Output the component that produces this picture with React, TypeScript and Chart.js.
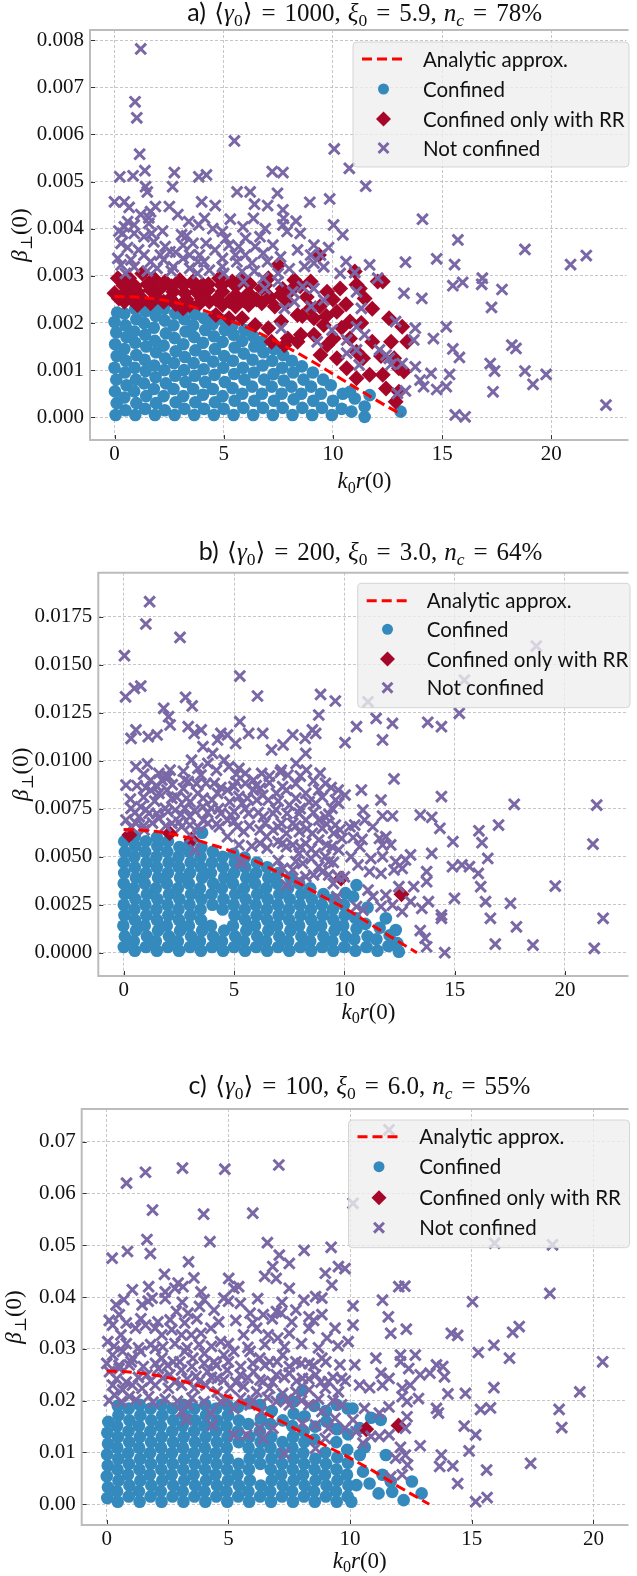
import React, { useEffect, useRef } from "react";
import { Chart, registerables } from "chart.js";
Chart.register(...registerables);

type Pt = [number, number];

// ======================= DATA =======================
const legendLabels = ["Analytic approx.", "Confined", "Confined only with RR", "Not confined"];

// ---------- panel a ----------
const xTicksA = [0, 5, 10, 15, 20];
const yTicksA = [0, 0.001, 0.002, 0.003, 0.004, 0.005, 0.006, 0.007, 0.008];
const analyticA: Pt[] = [[0,2.56e-3],[1,2.55e-3],[2,2.5e-3],[3,2.41e-3],[4,2.28e-3],[5,2.1e-3],[6,1.92e-3],[7,1.7e-3],[8,1.46e-3],[9,1.2e-3],[10,0.92e-3],[11,0.64e-3],[12,0.36e-3],[13.17,0.05e-3]];
const confinedA: Pt[] = [
[0.05,0.05e-3],[0.1,0.3e-3],[0.02,0.55e-3],[0.08,0.8e-3],[0,1.05e-3],[0.1,1.3e-3],[0.03,1.55e-3],[0.08,1.8e-3],[0,2.02e-3],[0.12,2.22e-3],
[0.5,0.15e-3],[0.45,0.42e-3],[0.55,0.68e-3],[0.48,0.95e-3],[0.52,1.2e-3],[0.45,1.45e-3],[0.55,1.7e-3],[0.5,1.95e-3],[0.45,2.2e-3],
[0.95,0.05e-3],[1,0.3e-3],[0.9,0.55e-3],[0.98,0.8e-3],[0.92,1.05e-3],[1,1.32e-3],[0.95,1.58e-3],[0.9,1.82e-3],[1,2.08e-3],[0.95,2.3e-3],
[1.4,0.18e-3],[1.45,0.45e-3],[1.35,0.72e-3],[1.42,0.98e-3],[1.38,1.22e-3],[1.45,1.5e-3],[1.4,1.75e-3],[1.35,2e-3],[1.42,2.25e-3],
[1.85,0.05e-3],[1.9,0.3e-3],[1.8,0.6e-3],[1.88,0.85e-3],[1.82,1.1e-3],[1.9,1.38e-3],[1.85,1.62e-3],[1.8,1.9e-3],[1.88,2.15e-3],[1.85,2.35e-3],
[2.3,0.15e-3],[2.25,0.45e-3],[2.35,0.72e-3],[2.28,1e-3],[2.32,1.25e-3],[2.25,1.52e-3],[2.35,1.78e-3],[2.3,2.05e-3],[2.28,2.3e-3],
[2.75,0.05e-3],[2.8,0.32e-3],[2.7,0.6e-3],[2.78,0.88e-3],[2.72,1.15e-3],[2.8,1.4e-3],[2.75,1.68e-3],[2.7,1.95e-3],[2.78,2.2e-3],
[3.2,0.18e-3],[3.15,0.45e-3],[3.25,0.75e-3],[3.18,1e-3],[3.22,1.28e-3],[3.15,1.55e-3],[3.25,1.82e-3],[3.2,2.08e-3],[3.18,2.28e-3],
[3.65,0.05e-3],[3.7,0.32e-3],[3.6,0.6e-3],[3.68,0.88e-3],[3.62,1.15e-3],[3.7,1.42e-3],[3.65,1.7e-3],[3.6,1.95e-3],[3.68,2.18e-3],
[4.1,0.18e-3],[4.05,0.48e-3],[4.15,0.75e-3],[4.08,1.02e-3],[4.12,1.3e-3],[4.05,1.58e-3],[4.15,1.85e-3],[4.1,2.1e-3],
[4.55,0.05e-3],[4.6,0.32e-3],[4.5,0.6e-3],[4.58,0.9e-3],[4.52,1.18e-3],[4.6,1.45e-3],[4.55,1.72e-3],[4.5,1.98e-3],[4.58,2.15e-3],
[5,0.18e-3],[4.95,0.45e-3],[5.05,0.75e-3],[4.98,1.05e-3],[5.02,1.3e-3],[4.95,1.6e-3],[5.05,1.85e-3],[5,2.05e-3],
[5.45,0.05e-3],[5.5,0.35e-3],[5.4,0.62e-3],[5.48,0.92e-3],[5.42,1.2e-3],[5.5,1.48e-3],[5.45,1.75e-3],[5.4,1.95e-3],
[5.9,0.2e-3],[5.85,0.5e-3],[5.95,0.8e-3],[5.88,1.05e-3],[5.92,1.35e-3],[5.85,1.62e-3],[5.95,1.85e-3],
[6.35,0.05e-3],[6.4,0.35e-3],[6.3,0.65e-3],[6.38,0.95e-3],[6.32,1.22e-3],[6.4,1.5e-3],[6.35,1.72e-3],
[6.8,0.2e-3],[6.75,0.5e-3],[6.85,0.8e-3],[6.78,1.1e-3],[6.82,1.38e-3],[6.75,1.6e-3],
[7.25,0.05e-3],[7.3,0.35e-3],[7.2,0.65e-3],[7.28,0.92e-3],[7.22,1.2e-3],[7.3,1.45e-3],
[7.7,0.2e-3],[7.65,0.5e-3],[7.75,0.78e-3],[7.68,1.05e-3],[7.72,1.32e-3],
[8.15,0.05e-3],[8.2,0.38e-3],[8.1,0.65e-3],[8.18,0.95e-3],[8.12,1.2e-3],
[8.6,0.2e-3],[8.55,0.5e-3],[8.65,0.8e-3],[8.58,1.08e-3],
[9.05,0.05e-3],[9.1,0.35e-3],[9,0.65e-3],[9.08,0.95e-3],
[9.5,0.2e-3],[9.45,0.5e-3],[9.55,0.8e-3],
[9.95,0.05e-3],[10,0.35e-3],[9.9,0.68e-3],
[10.4,0.18e-3],[10.45,0.5e-3],
[10.85,0.12e-3],[10.78,0.54e-3],[11,0.4e-3],[11.45,0.23e-3],[11.45,0.01e-3],[11.68,0.47e-3],[13.1,0.12e-3]
];
const rrOnlyA: Pt[] = [
[0.15,2.95e-3],[0.67,2.95e-3],[1.27,3.05e-3],[1.8,2.95e-3],[2.32,2.88e-3],[2.99,2.91e-3],[3.59,2.88e-3],[4.04,2.81e-3],[4.79,2.95e-3],[5.39,2.88e-3],[5.84,2.95e-3],[7.04,2.95e-3],
[0,2.63e-3],[0.52,2.66e-3],[1.05,2.66e-3],[1.65,2.7e-3],[2.1,2.73e-3],[2.69,2.66e-3],[3.22,2.63e-3],[3.74,2.66e-3],[4.27,2.7e-3],[4.94,2.66e-3],[5.54,2.59e-3],[6.14,2.63e-3],[6.74,2.73e-3],
[7.49,3.23e-3],[9.36,3.44e-3],
[0.45,2.45e-3],[1.05,2.38e-3],[1.65,2.42e-3],[2.25,2.45e-3],[2.8,2.4e-3],[3.14,2.31e-3],[3.44,2.38e-3],[3.9,2.42e-3],[4.34,2.45e-3],[4.94,2.38e-3],[5.54,2.35e-3],[6.14,2.38e-3],[6.74,2.42e-3],[7.34,2.35e-3],[7.93,2.45e-3],[8.38,2.17e-3],[8.98,2.31e-3],
[4.64,2.17e-3],[5.24,2.1e-3],[5.84,2.1e-3],[6.44,1.96e-3],[7.04,1.89e-3],[7.63,2.03e-3],[7.93,1.67e-3],[8.53,1.75e-3],[9.13,2.1e-3],[9.58,1.96e-3],[10.18,2.24e-3],[10.78,2.03e-3],
[7.19,1.6e-3],[7.78,1.53e-3],[8.38,1.6e-3],[9.13,1.75e-3],[9.73,1.53e-3],[10.18,1.25e-3],[10.63,1.04e-3],[11.08,1.39e-3],[9.43,1.32e-3],[10.03,1.67e-3],
[11,3.09e-3],[11.08,2.81e-3],[8.23,2.91e-3],[8.98,2.88e-3],[9.73,2.66e-3],[10.33,2.73e-3],
[11.23,2.73e-3],[11.45,2.52e-3],[12.05,2.88e-3],[12.28,2.88e-3],[12.57,2.1e-3],[13.17,1.92e-3],[11.8,1.6e-3],[12.66,1.6e-3],[13.4,1.6e-3],[11.38,1.25e-3],[11.68,0.9e-3],[12.28,0.9e-3],[13.02,1.04e-3],[13.25,0.97e-3],[12.43,0.61e-3],[12.87,0.33e-3],[13.02,0.54e-3],[11.08,0.83e-3],[10.78,1.67e-3],
[0.2,2.52e-3],[0.75,2.52e-3],[1.3,2.5e-3],[1.9,2.54e-3],[2.55,2.52e-3],[3.3,2.5e-3],[4,2.52e-3],[4.65,2.5e-3],[5.25,2.46e-3],[5.9,2.48e-3],[6.5,2.5e-3],[7.1,2.55e-3],
[0.4,2.8e-3],[0.95,2.78e-3],[1.5,2.82e-3],[2.05,2.8e-3],[2.6,2.78e-3],[3.15,2.8e-3],[3.7,2.78e-3],[4.3,2.82e-3],[4.9,2.8e-3],[5.55,2.78e-3],[6.2,2.82e-3],[6.9,2.8e-3],[7.7,2.72e-3],[8.5,2.78e-3],
[7.6,2.6e-3],[8.1,2.7e-3],[8.8,2.55e-3],[9.4,2.35e-3],[10,2.5e-3],[10.6,2.4e-3],[8.6,2.15e-3],[9.7,2.15e-3],[10.4,1.9e-3],[11.3,2e-3],[11.8,2.3e-3],[12.2,1.3e-3],[12.8,1.25e-3]
];
const notConfinedA: Pt[] = [
[1.2,7.81e-3],[0.94,6.69e-3],[1.02,6.35e-3],[5.49,5.86e-3],[10.06,5.69e-3],[1.15,5.58e-3],[10.75,5.28e-3],[1.39,5.23e-3],[0.24,5.1e-3],[0.85,5.12e-3],[2.74,5.19e-3],[3.86,5.1e-3],[4.21,5.14e-3],[7.22,5.21e-3],[7.71,5.19e-3],
[1.42,4.89e-3],[2.66,4.89e-3],[1.5,4.78e-3],[5.61,4.78e-3],[6.21,4.78e-3],[7.46,4.75e-3],[0,4.57e-3],[0.45,4.57e-3],[0.67,4.45e-3],[2.51,4.47e-3],[3.99,4.57e-3],[4.61,4.49e-3],[6.41,4.52e-3],[7.01,4.49e-3],[8.94,4.56e-3],[9.85,4.63e-3],
[1.87,4.47e-3],[1.65,4.36e-3],[7.71,4.4e-3],[1.57,4.23e-3],[0.6,4.15e-3],[4.12,4.22e-3],[6.36,4.22e-3],[7.74,4.22e-3],[8.31,4.16e-3],[0.45,4.04e-3],[0.9,4.08e-3],[1.57,4.11e-3],[3.86,4.08e-3],[5.88,4.04e-3],[7.71,4.08e-3],[10.03,4.08e-3],
[0.37,3.9e-3],[0.9,3.9e-3],[4.94,3.94e-3],[7.9,3.94e-3],[10.45,3.87e-3],[3.07,3.87e-3],[1.35,3.83e-3],[5.09,3.79e-3],[6.66,3.83e-3],[0.3,3.69e-3],[1.8,3.72e-3],[3.14,3.65e-3],[3.59,3.69e-3],[4.19,3.69e-3],[5.24,3.65e-3],[5.69,3.62e-3],[6.44,3.62e-3],[7.25,3.65e-3],[8.38,3.55e-3],[9.13,3.65e-3],[2.32,3.62e-3],
[1.35,3.44e-3],[2.1,3.44e-3],[2.54,3.51e-3],[3.44,3.44e-3],[3.89,3.44e-3],[5.54,3.44e-3],[5.99,3.44e-3],[6.81,3.48e-3],[8.98,3.44e-3],[9.43,3.44e-3],[0.15,3.37e-3],[0.75,3.34e-3],[1.65,3.3e-3],[2.25,3.34e-3],[3.14,3.37e-3],[3.82,3.3e-3],[4.94,3.37e-3],[6.29,3.27e-3],[9.13,3.27e-3],[9.58,3.19e-3],
[0.3,3.23e-3],[0.9,3.19e-3],[1.95,3.16e-3],[2.69,3.19e-3],[3.44,3.16e-3],[4.34,3.12e-3],[4.94,3.19e-3],[5.84,3.09e-3],[7.49,3.05e-3],[10.33,3.05e-3],[11,3.07e-3],
[5.91,2.88e-3],[6.89,2.73e-3],[7.49,2.88e-3],[8.16,2.66e-3],[8.61,2.77e-3],[9.13,2.73e-3],[6.81,2.95e-3],[8.23,2.45e-3],[7.78,2.31e-3],[9,2.35e-3],[9.58,2.49e-3],[11.08,2.66e-3],[7.63,1.89e-3],[9.28,1.6e-3],[9.96,1.85e-3],[10.63,1.64e-3],[10.63,1.36e-3],[11.08,1.92e-3],
[0.6,3.6e-3],[1.1,3.55e-3],[1.7,3.9e-3],[2.2,3.95e-3],[2.8,3.5e-3],[3.3,3.85e-3],[4.6,3.55e-3],[5.3,4.2e-3],[6,3.8e-3],[6.9,4e-3],[7.6,3.4e-3],[8,3.15e-3],[8.5,3.9e-3],[0.2,3.95e-3],[1.2,4.3e-3],[2.9,4.3e-3],[3.4,4.15e-3],[4.5,4e-3],[5.6,3.3e-3],[6.4,3.1e-3],[7,3.3e-3],[8.7,3.2e-3],[9.8,3.6e-3],[10.6,3.3e-3],[2.6,3.1e-3],[1.5,3.1e-3],[4.1,3.3e-3],[0.5,3.05e-3],[3.8,3.05e-3],[5,3.05e-3],
[11.5,4.9e-3],[14.1,4.2e-3],[15.72,3.76e-3],[18.79,3.56e-3],[14.75,3.36e-3],[13.32,3.29e-3],[15.57,3.24e-3],[11.68,3.23e-3],[20.88,3.24e-3],[21.6,3.43e-3],[12.05,2.95e-3],[15.49,2.79e-3],[15.94,2.86e-3],[16.84,2.95e-3],[16.81,2.82e-3],[17.74,2.71e-3],
[13.25,2.63e-3],[14.07,2.52e-3],[17.26,2.33e-3],[11.3,2.31e-3],[11.45,1.75e-3],[12.87,2.03e-3],[13.77,1.89e-3],[15.19,1.92e-3],[14.6,1.67e-3],[13.7,1.64e-3],[18.19,1.53e-3],[18.38,1.46e-3],[15.49,1.45e-3],[15.79,1.27e-3],[17.2,1.14e-3],[17.4,0.98e-3],[18.79,0.98e-3],[19.76,0.91e-3],[19.16,0.7e-3],
[11.2,1.11e-3],[12.13,1.43e-3],[12.43,1.32e-3],[12.58,1.25e-3],[12.66,1.12e-3],[13.17,1.14e-3],[13.77,1.07e-3],[14.49,0.93e-3],[13.99,0.79e-3],[14.15,0.65e-3],[14.75,0.59e-3],[15.19,0.65e-3],[15.34,0.91e-3],[13.32,0.56e-3],[12.95,0.51e-3],[17.33,0.54e-3],[15.6,0.05e-3],[16.05,0.01e-3],[22.5,0.26e-3],[11.08,1.43e-3]
];

// ---------- panel b ----------
const xTicksB = [0, 5, 10, 15, 20];
const yTicksB = [0, 0.0025, 0.005, 0.0075, 0.01, 0.0125, 0.015, 0.0175];
const analyticB: Pt[] = [[0,6.42e-3],[1,6.36e-3],[2,6.22e-3],[3,5.96e-3],[4,5.62e-3],[5,5.24e-3],[6,4.76e-3],[7,4.18e-3],[8,3.58e-3],[9,2.94e-3],[10,2.33e-3],[11,1.62e-3],[12,0.9e-3],[13.29,0]];
const confinedB: Pt[] = [
[0,0.3e-3],[0.05,0.85e-3],[-0.02,1.4e-3],[0.03,1.95e-3],[0,2.5e-3],[0.05,3.05e-3],[0,3.6e-3],[0.02,4.15e-3],[0,4.7e-3],[0.05,5.25e-3],[0.02,5.8e-3],
[0.5,0.1e-3],[0.45,0.6e-3],[0.55,1.15e-3],[0.5,1.7e-3],[0.48,2.25e-3],[0.52,2.8e-3],[0.45,3.35e-3],[0.55,3.9e-3],[0.5,4.45e-3],[0.48,5e-3],[0.52,5.55e-3],[0.5,6.05e-3],
[1,0.3e-3],[1.05,0.85e-3],[0.95,1.4e-3],[1.02,1.95e-3],[0.98,2.5e-3],[1.05,3.05e-3],[0.95,3.6e-3],[1,4.15e-3],[1.03,4.7e-3],[0.97,5.25e-3],[1,5.8e-3],
[1.5,0.1e-3],[1.45,0.6e-3],[1.55,1.15e-3],[1.5,1.7e-3],[1.48,2.25e-3],[1.52,2.8e-3],[1.45,3.35e-3],[1.55,3.9e-3],[1.5,4.45e-3],[1.48,5e-3],[1.52,5.55e-3],[1.5,6e-3],
[2,0.3e-3],[2.05,0.85e-3],[1.95,1.4e-3],[2.02,1.95e-3],[1.98,2.5e-3],[2.05,3.05e-3],[1.95,3.6e-3],[2,4.15e-3],[2.03,4.7e-3],[1.97,5.25e-3],[2,5.8e-3],
[2.5,0.1e-3],[2.45,0.6e-3],[2.55,1.15e-3],[2.5,1.7e-3],[2.48,2.25e-3],[2.52,2.8e-3],[2.45,3.35e-3],[2.55,3.9e-3],[2.5,4.45e-3],[2.48,5e-3],[2.52,5.5e-3],
[3,0.3e-3],[3.05,0.85e-3],[2.95,1.4e-3],[3.02,1.95e-3],[2.98,2.5e-3],[3.05,3.05e-3],[2.95,3.6e-3],[3,4.15e-3],[3.03,4.7e-3],[2.97,5.25e-3],[3,5.75e-3],
[3.5,0.1e-3],[3.45,0.6e-3],[3.55,1.15e-3],[3.5,1.7e-3],[3.48,2.25e-3],[3.52,2.8e-3],[3.45,3.35e-3],[3.55,3.9e-3],[3.5,4.45e-3],[3.48,5e-3],[3.52,5.5e-3],[3.55,6.25e-3],
[4,0.3e-3],[4.05,0.85e-3],[3.95,1.4e-3],[4.02,2.5e-3],[3.98,3.05e-3],[4.05,3.6e-3],[3.95,4.15e-3],[4,4.7e-3],[4.03,5.25e-3],
[4.5,0.1e-3],[4.45,0.6e-3],[4.55,1.15e-3],[4.48,2.25e-3],[4.52,2.8e-3],[4.45,3.35e-3],[4.55,3.9e-3],[4.5,4.45e-3],[4.48,5e-3],
[5,0.3e-3],[5.05,0.85e-3],[4.95,1.4e-3],[5.02,1.95e-3],[4.98,2.5e-3],[5.05,3.05e-3],[4.95,3.6e-3],[5,4.15e-3],[5.03,4.7e-3],[4.97,5.15e-3],
[5.5,0.1e-3],[5.45,0.6e-3],[5.55,1.15e-3],[5.5,1.7e-3],[5.48,2.25e-3],[5.52,2.8e-3],[5.45,3.35e-3],[5.55,3.9e-3],[5.5,4.45e-3],[5.48,4.95e-3],
[6,0.3e-3],[6.05,0.85e-3],[5.95,1.4e-3],[6.02,1.95e-3],[5.98,2.5e-3],[6.05,3.05e-3],[5.95,3.6e-3],[6,4.15e-3],[6.03,4.7e-3],
[6.5,0.1e-3],[6.45,0.6e-3],[6.55,1.15e-3],[6.5,1.7e-3],[6.48,2.25e-3],[6.52,2.8e-3],[6.45,3.35e-3],[6.55,3.9e-3],[6.5,4.45e-3],
[7,0.3e-3],[7.05,0.85e-3],[6.95,1.4e-3],[7.02,1.95e-3],[6.98,2.5e-3],[7.05,3.05e-3],[6.95,3.6e-3],[7,4.15e-3],
[7.5,0.1e-3],[7.45,0.6e-3],[7.55,1.15e-3],[7.5,1.7e-3],[7.48,2.25e-3],[7.52,2.8e-3],[7.45,3.35e-3],[7.55,3.9e-3],
[8,0.3e-3],[8.05,0.85e-3],[7.95,1.4e-3],[8.02,1.95e-3],[7.98,2.5e-3],[8.05,3.05e-3],[7.95,3.6e-3],
[8.5,0.1e-3],[8.45,0.6e-3],[8.55,1.15e-3],[8.5,1.7e-3],[8.48,2.25e-3],[8.52,2.8e-3],[8.45,3.35e-3],
[9,0.3e-3],[9.05,0.85e-3],[8.95,1.4e-3],[9.02,1.95e-3],[8.98,2.5e-3],[9.05,3.05e-3],
[9.5,0.1e-3],[9.45,0.6e-3],[9.55,1.15e-3],[9.5,1.7e-3],[9.48,2.25e-3],[9.52,2.8e-3],
[10,0.3e-3],[10.05,0.85e-3],[9.95,1.4e-3],[10.02,1.95e-3],[9.98,2.5e-3],[10.05,3.1e-3],
[10.5,0.1e-3],[10.45,0.7e-3],[10.55,1.25e-3],[10.5,1.8e-3],[10.4,2.92e-3],[10.55,3.52e-3],
[11,0.3e-3],[11.05,0.85e-3],[10.95,1.5e-3],[11.05,2.35e-3],
[11.5,0.1e-3],[11.45,0.7e-3],[11.6,1.3e-3],[11.88,1.79e-3],
[12,0.35e-3],[12.05,0.9e-3],[12.33,1.18e-3],
[12.47,0.05e-3],[12.4,0.5e-3]
];
const rrOnlyB: Pt[] = [[0.25,6.13e-3],[2.08,6.22e-3],[3.07,5.9e-3],[9.85,3.87e-3],[12.59,3.04e-3]];
const notConfinedB: Pt[] = [
[1.17,18.28e-3],[1,17.12e-3],[2.55,16.42e-3],[0.03,15.47e-3],[5.26,14.41e-3],[0.08,13.33e-3],[0.48,13.77e-3],[0.77,13.89e-3],[2.8,13.3e-3],[3.1,12.85e-3],[6.06,13.37e-3],[8.92,13.45e-3],[9.59,13.11e-3],
[1.81,12.73e-3],[2.03,12.29e-3],[2.1,11.86e-3],[0.55,11.6e-3],[0.33,11.16e-3],[1.11,11.25e-3],[1.51,11.34e-3],[2.92,11.77e-3],[3.19,11.42e-3],[3.51,11.6e-3],[5.26,12.03e-3],[5.66,11.42e-3],[6.3,11.42e-3],[4.4,11.42e-3],[4.7,11.34e-3],[5.07,10.9e-3],[6.7,10.56e-3],[7.22,10.82e-3],[7.66,11.34e-3],[8.22,11.16e-3],[8.55,11.6e-3],[8.84,12.38e-3],[8.7,11.42e-3],[10.03,10.94e-3],
[0.55,9.69e-3],[1.07,9.83e-3],[1.59,9.34e-3],[2.1,9.51e-3],[3.07,10.03e-3],[3.36,9.6e-3],[3.59,10.73e-3],[4.03,10.38e-3],[4.25,11.08e-3],[3.81,9.86e-3],[4.55,10.03e-3],[4.77,9.69e-3],[5.22,9.6e-3],[5.51,9.34e-3],[5.88,8.99e-3],[6.25,9.34e-3],[7.14,9.51e-3],[7.44,9.25e-3],[7.81,9.86e-3],[8.25,10.38e-3],[8.28,9.51e-3],
[0.1,8.73e-3],[1.22,8.99e-3],[1.51,8.65e-3],[1.73,8.99e-3],[2.03,9.17e-3],[2.77,8.99e-3],[2.92,8.91e-3],[3.73,8.82e-3],[4.1,8.82e-3],[4.99,8.65e-3],[5.51,8.82e-3],[5.88,8.47e-3],[6.18,8.56e-3],[6.92,8.3e-3],[7.37,8.47e-3],[8.25,8.3e-3],[8.84,8.47e-3],[9.14,8.82e-3],[9.72,8.47e-3],[10.03,8.21e-3],
[1.22,8.47e-3],[1.59,8.3e-3],[1.96,8.47e-3],[2.18,8.04e-3],[2.85,8.04e-3],[3.36,8.3e-3],[4.25,8.3e-3],[4.7,8.47e-3],[5.22,8.13e-3],[5.37,7.78e-3],[6.03,7.95e-3],[6.55,7.95e-3],[7.51,7.69e-3],[7.95,7.26e-3],[8.7,7.78e-3],[9.44,7.52e-3],[9.74,7.78e-3],
[0.77,7.6e-3],[1.14,7.26e-3],[0.33,7.52e-3],[1.88,7.52e-3],[2.33,7.43e-3],[2.77,7.52e-3],[3,7.08e-3],[3.59,7.6e-3],[3.96,7.52e-3],[4.4,7.26e-3],[4.85,7.17e-3],[5.66,7.26e-3],[6.33,7.08e-3],[6.77,7.26e-3],[7.14,6.74e-3],[7.66,6.74e-3],[8.25,6.91e-3],[8.84,6.91e-3],[9.14,7.08e-3],[9.59,6.65e-3],
[0.1,6.91e-3],[0.55,6.74e-3],[1.59,7e-3],[2.18,6.74e-3],[2.62,6.56e-3],[3.36,6.56e-3],[3.81,6.74e-3],[4.33,6.56e-3],[4.7,6.91e-3],[5.14,6.56e-3],[5.44,6.3e-3],[6.18,6.39e-3],[6.77,6.39e-3],[7.37,6.22e-3],[7.96,6.3e-3],[8.55,6.22e-3],[9,6.48e-3],[9.51,6.22e-3],[0.33,6.56e-3],[0.92,6.39e-3],[0.7,7.08e-3],
[3.07,6.04e-3],[4.7,6.04e-3],[6.47,6.04e-3],[6.99,5.78e-3],[7.66,5.61e-3],[8.25,5.69e-3],[8.84,5.87e-3],[9.44,5.52e-3],[9.88,5.95e-3],[3.21,5.35e-3],[5.22,5.61e-3],[6.18,5.69e-3],[7.37,5.52e-3],[7.95,5.17e-3],[8.7,5.17e-3],[9.14,5e-3],[9.74,5.35e-3],
[5.29,4.74e-3],[5.37,4.65e-3],[7.22,4.39e-3],[7.66,4.31e-3],[8.11,4.65e-3],[8.84,4.48e-3],[9.29,4.05e-3],[9.74,3.96e-3],[9.29,4.74e-3],[7.95,3.78e-3],[8.25,3.96e-3],[7.37,3.52e-3],[9.66,2.92e-3],
[0.9,6.6e-3],[1.3,6.75e-3],[1.9,6.6e-3],[2.5,6.8e-3],[3,6.65e-3],[3.6,6.9e-3],[4.2,6.7e-3],[5,6.85e-3],[5.7,6.6e-3],[6.4,6.75e-3],[7,6.55e-3],[7.8,6.6e-3],[8.3,6.45e-3],[9.2,6.7e-3],[9.8,6.4e-3],
[0.5,7.3e-3],[1,7.45e-3],[1.5,7.25e-3],[2,7.35e-3],[2.6,7.2e-3],[3.2,7.4e-3],[3.8,7.3e-3],[4.3,7.5e-3],[5,7.35e-3],[5.5,7.5e-3],[6.1,7.3e-3],[6.9,7.45e-3],[7.4,7.25e-3],[8,7.5e-3],[8.6,7.3e-3],[9.3,7.2e-3],
[0.3,8e-3],[0.9,8.1e-3],[1.4,7.9e-3],[2.4,8.1e-3],[3,7.85e-3],[3.6,8.05e-3],[4,7.95e-3],[4.8,7.85e-3],[5.6,8.05e-3],[6.3,8.2e-3],[7,7.9e-3],[7.8,8.05e-3],[8.4,7.85e-3],[9,8.1e-3],[9.6,7.95e-3],
[0.6,8.7e-3],[1,8.6e-3],[2.2,8.75e-3],[2.7,8.55e-3],[3.3,8.8e-3],[4.4,8.6e-3],[5.1,8.9e-3],[6,8.7e-3],[6.6,8.85e-3],[7.2,8.65e-3],[7.8,8.8e-3],[8.6,8.95e-3],[9.4,8.6e-3],
[0.9,9.3e-3],[1.9,9.2e-3],[2.7,9.45e-3],[3.5,9.25e-3],[4.2,9.5e-3],[5.1,9.3e-3],[6.6,9.2e-3],[7.1,9.4e-3],[8,9.2e-3],[8.9,9.35e-3],
[5.8,5.55e-3],[6.5,5.45e-3],[7.2,5.7e-3],[8,5.5e-3],[8.5,5.4e-3],[9.2,5.6e-3],[7,4.8e-3],[7.8,4.75e-3],[8.5,4.9e-3],[9.5,4.7e-3],[8.6,4.05e-3],[9,4.2e-3],[9.5,3.6e-3],[10,3.95e-3],[10.3,5e-3],[10.8,5.9e-3],[11.2,4.9e-3],[10.4,6e-3],
[11.07,13.07e-3],[15.44,14.2e-3],[18.7,15.97e-3],[15.21,12.47e-3],[11.44,12.2e-3],[12.18,11.94e-3],[13.78,12e-3],[14.4,11.77e-3],[10.55,11.77e-3],[11.73,11.08e-3],[12.25,9.05e-3],[10.77,8.47e-3],[14.4,8.13e-3],[11.66,7.95e-3],[17.7,7.73e-3],[21.44,7.69e-3],
[10.84,7.43e-3],[11.73,7.12e-3],[12.18,7.12e-3],[13.44,7.17e-3],[13.96,7.05e-3],[16.99,6.65e-3],[16.1,6.35e-3],[16.24,5.73e-3],[14.33,6.48e-3],[10.25,6.56e-3],[10.47,6.65e-3],[11.29,6.56e-3],[10.92,6.91e-3],[11.59,5.95e-3],[11.88,6.04e-3],[12.1,5.61e-3],[11.73,5.61e-3],[10.7,5.52e-3],[14.92,5.78e-3],[21.27,5.66e-3],
[13.96,5.17e-3],[13,5.09e-3],[12.77,4.83e-3],[12.33,4.74e-3],[12.62,4.39e-3],[11.73,5e-3],[10.62,4.57e-3],[11.14,4.22e-3],[11.66,4.13e-3],[12.25,4.31e-3],[14.9,4.48e-3],[15.33,4.57e-3],[15.67,4.48e-3],[16.07,4.13e-3],[16.5,4.91e-3],[13.73,4.22e-3],[13.73,3.7e-3],[13.14,3.44e-3],[12.47,3.44e-3],[16.18,3.44e-3],[19.56,3.47e-3],
[11.07,3.26e-3],[11.29,2.92e-3],[11.88,3e-3],[13,2.66e-3],[13.81,2.66e-3],[14.99,2.83e-3],[16.4,2.66e-3],[17.53,2.57e-3],[10.55,2.4e-3],[10.84,2.22e-3],[11.66,2.4e-3],[12.18,2.48e-3],[12.62,2.14e-3],[13.51,2.31e-3],[14.4,1.79e-3],[14.4,1.96e-3],[16.62,1.79e-3],[21.73,1.79e-3],
[17.8,1.35e-3],[13.44,1.15e-3],[13.66,0.75e-3],[13.73,0.31e-3],[14.55,0],[16.84,0.45e-3],[18.55,0.4e-3],[21.33,0.23e-3]
];

// ---------- panel c ----------
const xTicksC = [0, 5, 10, 15, 20];
const yTicksC = [0, 0.01, 0.02, 0.03, 0.04, 0.05, 0.06, 0.07];
const analyticC: Pt[] = [[0,2.573e-2],[1,2.55e-2],[2,2.49e-2],[3,2.39e-2],[4,2.25e-2],[5,2.077e-2],[6,1.87e-2],[7,1.64e-2],[8,1.39e-2],[9,1.13e-2],[10,0.89e-2],[11,0.63e-2],[12,0.34e-2],[13.25,0]];
const confinedC: Pt[] = [
[0.02,0.12e-2],[0.05,0.33e-2],[0,0.54e-2],[0.04,0.75e-2],[0.01,0.96e-2],[0.05,1.17e-2],[0.02,1.38e-2],[0.06,1.59e-2],
[0.45,0.05e-2],[0.42,0.25e-2],[0.48,0.46e-2],[0.44,0.67e-2],[0.47,0.88e-2],[0.43,1.09e-2],[0.46,1.3e-2],[0.42,1.51e-2],[0.48,1.72e-2],[0.45,1.9e-2],
[0.9,0.15e-2],[0.93,0.36e-2],[0.87,0.57e-2],[0.91,0.78e-2],[0.88,0.99e-2],[0.92,1.2e-2],[0.89,1.41e-2],[0.93,1.62e-2],[0.9,1.85e-2],
[1.35,0.05e-2],[1.32,0.25e-2],[1.38,0.46e-2],[1.34,0.67e-2],[1.37,0.88e-2],[1.33,1.09e-2],[1.36,1.3e-2],[1.32,1.51e-2],[1.38,1.72e-2],[1.35,1.92e-2],
[1.8,0.15e-2],[1.83,0.36e-2],[1.77,0.57e-2],[1.81,0.78e-2],[1.78,0.99e-2],[1.82,1.2e-2],[1.79,1.41e-2],[1.83,1.62e-2],[1.8,1.85e-2],
[2.25,0.05e-2],[2.22,0.25e-2],[2.28,0.46e-2],[2.24,0.67e-2],[2.27,0.88e-2],[2.23,1.09e-2],[2.26,1.3e-2],[2.22,1.51e-2],[2.28,1.72e-2],[2.25,1.92e-2],
[2.7,0.15e-2],[2.73,0.36e-2],[2.67,0.57e-2],[2.71,0.78e-2],[2.68,0.99e-2],[2.72,1.2e-2],[2.69,1.41e-2],[2.73,1.62e-2],[2.7,1.85e-2],
[3.15,0.05e-2],[3.12,0.25e-2],[3.18,0.46e-2],[3.14,0.67e-2],[3.17,0.88e-2],[3.13,1.09e-2],[3.16,1.3e-2],[3.12,1.51e-2],[3.18,1.72e-2],[3.15,1.92e-2],
[3.6,0.15e-2],[3.63,0.36e-2],[3.57,0.57e-2],[3.61,0.78e-2],[3.58,0.99e-2],[3.62,1.2e-2],[3.59,1.41e-2],[3.63,1.62e-2],[3.6,1.85e-2],
[4.05,0.05e-2],[4.02,0.25e-2],[4.08,0.46e-2],[4.04,0.67e-2],[4.07,0.88e-2],[4.03,1.09e-2],[4.06,1.3e-2],[4.02,1.51e-2],[4.08,1.72e-2],[4.05,1.92e-2],
[4.5,0.15e-2],[4.53,0.36e-2],[4.47,0.57e-2],[4.51,0.78e-2],[4.48,0.99e-2],[4.52,1.2e-2],[4.49,1.41e-2],[4.53,1.62e-2],[4.5,1.85e-2],
[4.95,0.05e-2],[4.92,0.25e-2],[4.98,0.46e-2],[4.94,0.67e-2],[4.97,0.88e-2],[4.93,1.09e-2],[4.96,1.3e-2],[4.92,1.51e-2],[4.98,1.72e-2],[4.95,1.92e-2],
[5.4,0.15e-2],[5.43,0.36e-2],[5.37,0.57e-2],[5.41,0.78e-2],[5.42,1.2e-2],[5.39,1.41e-2],[5.43,1.62e-2],[5.4,1.88e-2],
[5.85,0.05e-2],[5.82,0.25e-2],[5.88,0.46e-2],[5.84,0.67e-2],[5.87,0.88e-2],[5.83,1.09e-2],[5.86,1.3e-2],[5.82,1.55e-2],[5.85,1.95e-2],
[6.3,0.15e-2],[6.33,0.36e-2],[6.31,0.78e-2],[6.28,0.99e-2],[6.32,1.2e-2],[6.29,1.41e-2],[6.33,1.65e-2],[6.3,1.92e-2],
[6.75,0.05e-2],[6.72,0.25e-2],[6.78,0.46e-2],[6.74,0.67e-2],[6.77,0.88e-2],[6.73,1.09e-2],[6.76,1.3e-2],[6.72,1.55e-2],[6.78,1.8e-2],
[7.2,0.15e-2],[7.23,0.36e-2],[7.17,0.57e-2],[7.21,0.78e-2],[7.18,0.99e-2],[7.22,1.2e-2],[7.23,1.62e-2],[7.2,2.05e-2],
[7.65,0.05e-2],[7.62,0.25e-2],[7.68,0.46e-2],[7.64,0.67e-2],[7.67,0.88e-2],[7.63,1.09e-2],[7.66,1.3e-2],[7.62,1.51e-2],[7.68,1.75e-2],[7.65,1.98e-2],
[8.1,0.15e-2],[8.13,0.36e-2],[8.07,0.57e-2],[8.11,0.78e-2],[8.08,0.99e-2],[8.12,1.2e-2],[8.09,1.41e-2],[8.13,1.7e-2],[8.04,2.2e-2],
[8.55,0.05e-2],[8.52,0.25e-2],[8.58,0.46e-2],[8.54,0.67e-2],[8.57,0.88e-2],[8.53,1.25e-2],[8.56,1.5e-2],[8.52,1.9e-2],
[9,0.15e-2],[9.03,0.36e-2],[8.97,0.57e-2],[9.01,0.78e-2],[8.98,1e-2],[9.02,1.6e-2],[9,1.8e-2],
[9.45,0.05e-2],[9.42,0.25e-2],[9.48,0.46e-2],[9.44,0.67e-2],[9.47,0.9e-2],[9.43,1.2e-2],[9.46,1.45e-2],[9.45,1.92e-2],
[9.9,0.15e-2],[9.93,0.36e-2],[9.87,0.57e-2],[9.91,0.8e-2],[9.88,1.05e-2],[9.92,1.35e-2],[9.9,1.85e-2],
[10.39,1.47e-2],[11.26,1.63e-2],[10.86,1.67e-2],[11.47,0.95e-2],[10.53,0.63e-2],[11.33,0.57e-2],[11.67,0.44e-2],[12.54,0.44e-2],[12.94,0.21e-2],[12.2,0.08e-2],[11.17,0.21e-2],[11.73,0.24e-2],[10.26,0.37e-2],[10.05,0.05e-2],[10.1,1.85e-2],[10.6,1.1e-2],[10.4,0.95e-2],[10.8,0.4e-2]
];
const rrOnlyC: Pt[] = [[10.66,1.45e-2],[11.99,1.52e-2]];
const notConfinedC: Pt[] = [
[0.81,6.2e-2],[1.59,6.41e-2],[3.11,6.49e-2],[4.85,6.47e-2],[7.07,6.55e-2],[1.88,5.68e-2],[3.98,5.6e-2],[6,5.62e-2],[1.65,5.11e-2],[4.24,5.07e-2],[6.6,5.05e-2],[0.22,4.75e-2],[0.85,4.88e-2],[1.79,4.84e-2],[3.36,4.68e-2],[8.11,4.9e-2],[9.22,4.96e-2],
[2.37,4.44e-2],[3.58,4.37e-2],[2.93,4.27e-2],[3.13,4.2e-2],[5.01,4.36e-2],[5.42,4.2e-2],[6.82,4.59e-2],[7.09,4.81e-2],[7.5,4.65e-2],[6.49,4.4e-2],[6.96,4.36e-2],[8.98,4.46e-2],[9.52,4.59e-2],[9.79,4.55e-2],
[1.05,4.14e-2],[1.72,4.2e-2],[2.4,4.1e-2],[2.8,4.17e-2],[3.87,4.1e-2],[5.22,4.17e-2],[7.5,4.17e-2],[9.25,4.23e-2],[0.38,3.85e-2],[1.45,3.85e-2],[1.86,3.98e-2],[2.86,3.72e-2],[3.34,3.69e-2],[3.81,3.82e-2],[4.41,3.75e-2],[4.81,3.98e-2],[5.49,3.88e-2],[5.89,3.69e-2],[6.43,3.66e-2],[6.97,3.72e-2],[7.17,3.69e-2],[7.77,3.75e-2],[8.58,4.01e-2],[8.84,3.98e-2],[8.31,3.62e-2],[8.84,3.66e-2],
[0.51,3.66e-2],[0.24,3.46e-2],[0.58,3.27e-2],[1.18,3.4e-2],[1.59,3.46e-2],[1.99,3.4e-2],[2.26,3.27e-2],[2.67,3.37e-2],[3.07,3.27e-2],[3.47,3.27e-2],[3.87,3.3e-2],[4.28,3.4e-2],[4.68,3.14e-2],[5.62,3.27e-2],[6.16,3.4e-2],[6.63,3.27e-2],[7.03,3.21e-2],[7.5,3.3e-2],[8.31,3.4e-2],[9.05,3.21e-2],[9.38,3.4e-2],[9.92,3.14e-2],
[0.04,3.14e-2],[0.24,2.88e-2],[0.65,2.95e-2],[1.05,2.82e-2],[1.39,2.95e-2],[1.99,3.01e-2],[2.26,2.82e-2],[2.73,2.75e-2],[3.2,2.95e-2],[3.54,2.82e-2],[4.01,2.91e-2],[4.41,2.75e-2],[4.81,2.88e-2],[5.22,2.95e-2],[5.89,2.95e-2],[6.29,2.82e-2],[6.69,2.75e-2],[7.23,2.88e-2],[7.77,2.75e-2],[8.31,2.72e-2],[8.84,2.82e-2],[9.58,2.69e-2],
[0.11,2.56e-2],[0.51,2.62e-2],[0.92,2.69e-2],[1.65,2.5e-2],[2.12,2.62e-2],[2.59,2.5e-2],[3.07,2.59e-2],[3.67,2.47e-2],[4.14,2.56e-2],[4.54,2.43e-2],[4.95,2.59e-2],[5.49,2.5e-2],[6.03,2.56e-2],[6.43,2.37e-2],[6.97,2.5e-2],[7.5,2.53e-2],[8.04,2.43e-2],[8.58,2.5e-2],[9.11,2.37e-2],[9.65,2.43e-2],
[0.24,2.3e-2],[0.65,2.21e-2],[1.05,2.3e-2],[1.45,2.24e-2],[1.99,2.3e-2],[2.53,2.24e-2],[3.07,2.3e-2],[3.6,2.24e-2],[4.07,2.3e-2],[4.54,2.17e-2],[5.08,2.24e-2],[5.62,2.27e-2],[6.16,2.17e-2],[6.69,2.24e-2],[7.23,2.14e-2],[7.77,2.17e-2],[8.31,2.21e-2],[8.98,2.24e-2],[9.52,2.17e-2],
[0.31,2.11e-2],[0.92,2.08e-2],[1.72,2.08e-2],[3.34,1.92e-2],[3.07,1.79e-2],[3.27,1.63e-2],[4.28,1.76e-2],[4.34,1.53e-2],[4.68,1.98e-2],[5.22,1.85e-2],[5.89,1.92e-2],[6.36,1.79e-2],[6.97,1.98e-2],[7.5,1.92e-2],[8.31,1.92e-2],[8.84,1.79e-2],[9.38,1.66e-2],[9.65,1.92e-2],
[5.22,1.34e-2],[5.75,1.34e-2],[6.29,1.47e-2],[6.83,1.47e-2],[7.3,0.98e-2],[6.43,1.27e-2],[8.04,1.56e-2],[8.58,1.53e-2],[9.11,1.47e-2],[9.79,1.47e-2],[8.58,1.08e-2],[8.98,1.27e-2],
[0.1,2e-2],[0.6,1.98e-2],[1.2,2.02e-2],[1.9,1.97e-2],[2.4,2.03e-2],[2.9,1.99e-2],[3.5,2.05e-2],[4,1.98e-2],[4.9,2.02e-2],[5.5,2.05e-2],[6,2e-2],[6.6,2.06e-2],[7.4,2.02e-2],[8,2e-2],[8.7,2.03e-2],[9.3,2e-2],
[0.4,2.42e-2],[0.8,2.36e-2],[1.3,2.45e-2],[1.8,2.38e-2],[2.3,2.44e-2],[2.8,2.36e-2],[3.3,2.42e-2],[3.8,2.38e-2],[4.3,2.45e-2],[4.8,2.4e-2],[5.3,2.36e-2],[5.8,2.44e-2],[6.3,2.4e-2],[6.8,2.36e-2],[7.3,2.45e-2],[7.8,2.38e-2],[8.3,2.42e-2],[8.8,2.36e-2],[9.3,2.45e-2],[9.8,2.38e-2],
[0,2.72e-2],[0.5,2.68e-2],[1,2.75e-2],[1.5,2.66e-2],[2,2.72e-2],[2.5,2.68e-2],[3,2.75e-2],[3.5,2.66e-2],[4,2.72e-2],[4.5,2.68e-2],[5,2.75e-2],[5.5,2.66e-2],[6,2.72e-2],[6.5,2.68e-2],[7,2.75e-2],[7.5,2.66e-2],[8,2.72e-2],[8.5,2.68e-2],[9,2.75e-2],
[0.3,3.05e-2],[0.8,3.1e-2],[1.3,3.02e-2],[1.8,3.08e-2],[2.3,3.04e-2],[2.8,3.1e-2],[3.3,3.02e-2],[3.8,3.08e-2],[4.3,3.05e-2],[5,3.1e-2],[5.8,3.03e-2],[6.5,3.08e-2],[7.3,3.04e-2],[8,3.1e-2],[8.7,3.02e-2],[9.5,3.06e-2],
[0.1,3.55e-2],[0.8,3.5e-2],[1.4,3.58e-2],[2.1,3.52e-2],[2.6,3.56e-2],[3.2,3.5e-2],[3.7,3.58e-2],[4.6,3.52e-2],[5.3,3.55e-2],[6,3.5e-2],[6.8,3.58e-2],[7.6,3.52e-2],[8.5,3.55e-2],
[0.7,3.95e-2],[1.7,3.92e-2],[2.4,3.97e-2],[3.1,3.9e-2],[4,3.95e-2],[5,3.92e-2],[6.2,3.97e-2],[7.2,3.9e-2],[8.1,3.94e-2],
[11.6,7.23e-2],[10.12,5.81e-2],[15.94,5.04e-2],[18.32,5.01e-2],[12,4.2e-2],[12.25,4.21e-2],[11.33,3.94e-2],[15.03,3.91e-2],[18.21,4.07e-2],[10.12,3.83e-2],[11.57,3.62e-2],[12.31,3.38e-2],[11.67,3.3e-2],[10.12,3.46e-2],[14.16,3.3e-2],[14.42,3.26e-2],[16.68,3.32e-2],[16.95,3.43e-2],
[15.27,2.93e-2],[15.91,3.07e-2],[16.55,2.82e-2],[20.38,2.75e-2],[10.19,2.69e-2],[11.06,2.82e-2],[12.07,2.88e-2],[12.07,2.75e-2],[12.68,2.88e-2],[12.41,2.62e-2],[12.88,2.5e-2],[13.28,2.53e-2],[13.55,2.69e-2],[13.81,2.66e-2],[13.88,2.46e-2],[11.27,2.53e-2],[11.6,2.43e-2],
[10.39,2.3e-2],[10.8,2.25e-2],[11.33,2.3e-2],[12.14,2.24e-2],[12.47,2.3e-2],[12.14,2.08e-2],[12.81,2.04e-2],[14.02,2.13e-2],[14.74,2.14e-2],[15.91,2.25e-2],[19.44,2.17e-2],[10.59,1.85e-2],[11.2,1.76e-2],[11.6,1.88e-2],[12.34,1.69e-2],[12.34,1.98e-2],[13.55,1.85e-2],[13.63,1.76e-2],[15.36,1.83e-2],[15.77,1.86e-2],[18.59,1.83e-2],[18.7,1.48e-2],
[10.12,1.63e-2],[10.25,1.4e-2],[10.86,1.31e-2],[11.2,1.31e-2],[10.53,1.18e-2],[11.6,1.34e-2],[12.27,1.47e-2],[14.69,1.51e-2],[15.16,1.34e-2],[12.88,1.13e-2],[12.07,1.1e-2],[12.27,0.95e-2],[11.87,0.89e-2],[13.75,0.95e-2],[13.68,0.73e-2],[14.22,0.74e-2],[14.89,1.03e-2],[12.36,0.76e-2],[12.14,0.57e-2],[11.67,0.53e-2],[14.42,0.4e-2],[15.61,0.66e-2],[17.42,0.79e-2],[15.16,0.05e-2],[15.63,0.13e-2]
];

// ======================= STYLE / LAYOUT =======================
const SERIF = '"Liberation Serif", "DejaVu Serif", serif';
const SANS = 'Lato, "DejaVu Sans", sans-serif';
const C_BLUE = "#348ABD";
const C_RED = "#A60628";
const C_PURPLE = "#7A68A6";
const C_LINE = "#FF0000";

type Seg = { t: string; it?: boolean; sub?: boolean; sans?: boolean; pad?: number };

const xLabelSegs: Seg[] = [{ t: "k", it: true }, { t: "0", sub: true }, { t: "r", it: true }, { t: "(0)" }];
const yLabelSegs: Seg[] = [{ t: "β", it: true }, { t: "⊥", sub: true }, { t: "(0)" }];

function titleSegs(letter: string, gamma: string, xi: string, nc: string): Seg[] {
  return [
    { t: letter + ")", sans: true }, { t: "", pad: 0.17 },
    { t: "⟨" }, { t: "γ", it: true }, { t: "0", sub: true }, { t: "⟩" },
    { t: "=", pad: 0.36 }, { t: gamma + "," },
    { t: "", pad: 0.14 },
    { t: "ξ", it: true }, { t: "0", sub: true },
    { t: "=", pad: 0.36 }, { t: xi + "," },
    { t: "", pad: 0.14 },
    { t: "n", it: true }, { t: "c", it: true, sub: true },
    { t: "=", pad: 0.36 }, { t: nc },
  ];
}

interface LegendBox { x: number; y: number; w: number; h: number; rows: number[]; lx0: number; lx1: number; mx: number; tx: number }
interface PanelDef {
  key: string; top: number; h: number; left: number; areaTop: number; areaBottom: number;
  xMin: number; xMax: number; yMin: number; yMax: number; yDec: number;
  xTicks: number[]; yTicks: number[];
  analytic: Pt[]; confined: Pt[]; rrOnly: Pt[]; notConfined: Pt[];
  title: Seg[]; titleX: number; titleBase: number; xLabX: number; xLabBase: number; yLabX: number;
  legend: LegendBox;
}

const panels: PanelDef[] = [
  {
    key: "a", top: 0, h: 520, left: 90, areaTop: 30, areaBottom: 440,
    xMin: -1.1226, xMax: 23.44, yMin: -0.000481, yMax: 0.0082125, yDec: 3,
    xTicks: xTicksA, yTicks: yTicksA,
    analytic: analyticA, confined: confinedA, rrOnly: rrOnlyA, notConfined: notConfinedA,
    title: titleSegs("a", "1000", "5.9", "78%"), titleX: 364.6, titleBase: 21, xLabX: 364.5, xLabBase: 488, yLabX: 21,
    legend: { x: 353, y: 42, w: 276, h: 125, rows: [59, 89, 119, 148], lx0: 362, lx1: 405, mx: 383.5, tx: 423 },
  },
  {
    key: "b", top: 520, h: 540, left: 98.3, areaTop: 52.7, areaBottom: 456,
    xMin: -1.156, xMax: 22.79, yMin: -0.001214, yMax: 0.019792, yDec: 4,
    xTicks: xTicksB, yTicks: yTicksB,
    analytic: analyticB, confined: confinedB, rrOnly: rrOnlyB, notConfined: notConfinedB,
    title: titleSegs("b", "200", "3.0", "64%"), titleX: 370.5, titleBase: 40, xLabX: 368.5, xLabBase: 498.5, yLabX: 22,
    legend: { x: 357.7, y: 63.3, w: 272.3, h: 124.4, rows: [80.7, 109.3, 139, 167.7], lx0: 366.7, lx1: 408.3, mx: 387.5, tx: 426.7 },
  },
  {
    key: "c", top: 1060, h: 516, left: 81.7, areaTop: 49, areaBottom: 465,
    xMin: -1.032, xMax: 21.36, yMin: -0.004, yMax: 0.07631, yDec: 2,
    xTicks: xTicksC, yTicks: yTicksC,
    analytic: analyticC, confined: confinedC, rrOnly: rrOnlyC, notConfined: notConfinedC,
    title: titleSegs("c", "100", "6.0", "55%"), titleX: 359.5, titleBase: 34, xLabX: 359.7, xLabBase: 507.5, yLabX: 15,
    legend: { x: 348.5, y: 60, w: 281, h: 127.7, rows: [76.7, 106.7, 137.7, 167.7], lx0: 357.5, lx1: 400.5, mx: 379, tx: 419.3 },
  },
];

// ======================= DRAW HELPERS =======================
function drawRich(ctx: CanvasRenderingContext2D, segs: Seg[], cx: number, base: number, size: number) {
  const fnt = (s: Seg) => `${s.it ? "italic " : ""}${s.sub ? size * 0.7 : size}px ${s.sans ? SANS : SERIF}`;
  const ws = segs.map((s) => { ctx.font = fnt(s); return ctx.measureText(s.t).width + 2 * (s.pad || 0) * size; });
  const total = ws.reduce((a, b) => a + b, 0);
  let x = cx - total / 2;
  ctx.textAlign = "left";
  ctx.textBaseline = "alphabetic";
  segs.forEach((s, i) => {
    ctx.font = fnt(s);
    ctx.fillText(s.t, x + (s.pad || 0) * size, base + (s.sub ? size * 0.2 : 0));
    x += ws[i];
  });
}

function makeDecor(L: PanelDef) {
  return {
    id: "decor" + L.key,
    afterDatasetsDraw(chart: any) {
      const { ctx, chartArea: a, scales } = chart;
      const xs = scales.x, ys = scales.y;
      ctx.save();
      ctx.setLineDash([]);
      // inward tick marks
      ctx.strokeStyle = "#333";
      ctx.lineWidth = 1;
      ctx.beginPath();
      L.xTicks.forEach((v) => { const p = Math.round(xs.getPixelForValue(v)) + 0.5; ctx.moveTo(p, a.bottom); ctx.lineTo(p, a.bottom - 5); });
      L.yTicks.forEach((v) => { const p = Math.round(ys.getPixelForValue(v)) + 0.5; ctx.moveTo(a.left, p); ctx.lineTo(a.left + 5, p); });
      ctx.stroke();
      // spines
      ctx.strokeStyle = "#bcbcbc";
      ctx.lineWidth = 2;
      ctx.beginPath();
      ctx.moveTo(a.left, a.top); ctx.lineTo(a.left, a.bottom);
      ctx.moveTo(a.left - 1, a.top); ctx.lineTo(a.right + 2, a.top);
      ctx.moveTo(a.left - 1, a.bottom); ctx.lineTo(a.right + 2, a.bottom);
      ctx.stroke();
      // legend
      const G = L.legend;
      ctx.beginPath();
      const r = 4;
      ctx.moveTo(G.x + r, G.y);
      ctx.lineTo(G.x + G.w - r, G.y); ctx.quadraticCurveTo(G.x + G.w, G.y, G.x + G.w, G.y + r);
      ctx.lineTo(G.x + G.w, G.y + G.h - r); ctx.quadraticCurveTo(G.x + G.w, G.y + G.h, G.x + G.w - r, G.y + G.h);
      ctx.lineTo(G.x + r, G.y + G.h); ctx.quadraticCurveTo(G.x, G.y + G.h, G.x, G.y + G.h - r);
      ctx.lineTo(G.x, G.y + r); ctx.quadraticCurveTo(G.x, G.y, G.x + r, G.y);
      ctx.closePath();
      ctx.fillStyle = "rgba(239,239,239,0.8)";
      ctx.fill();
      ctx.strokeStyle = "rgba(204,204,204,0.8)";
      ctx.lineWidth = 1;
      ctx.stroke();
      // handles
      ctx.strokeStyle = C_LINE; ctx.lineWidth = 3; ctx.setLineDash([10, 5]);
      ctx.beginPath(); ctx.moveTo(G.lx0, G.rows[0]); ctx.lineTo(G.lx1, G.rows[0]); ctx.stroke();
      ctx.setLineDash([]);
      ctx.fillStyle = C_BLUE;
      ctx.beginPath(); ctx.arc(G.mx, G.rows[1], 5.5, 0, Math.PI * 2); ctx.fill();
      ctx.fillStyle = C_RED;
      ctx.beginPath(); const d = 7.5, yy = G.rows[2];
      ctx.moveTo(G.mx - d, yy); ctx.lineTo(G.mx, yy - d); ctx.lineTo(G.mx + d, yy); ctx.lineTo(G.mx, yy + d); ctx.closePath(); ctx.fill();
      ctx.strokeStyle = C_PURPLE; ctx.lineWidth = 3;
      const c = 7 * Math.SQRT1_2, y3 = G.rows[3];
      ctx.beginPath(); ctx.moveTo(G.mx - c, y3 - c); ctx.lineTo(G.mx + c, y3 + c); ctx.moveTo(G.mx - c, y3 + c); ctx.lineTo(G.mx + c, y3 - c); ctx.stroke();
      ctx.fillStyle = "#111";
      ctx.font = `20.5px ${SANS}`;
      ctx.textAlign = "left"; ctx.textBaseline = "middle";
      legendLabels.forEach((t, i) => ctx.fillText(t, G.tx, G.rows[i] + 1));
      // title and axis labels
      ctx.fillStyle = "#111";
      drawRich(ctx, L.title, L.titleX, L.titleBase, 25);
      drawRich(ctx, xLabelSegs, L.xLabX, L.xLabBase, 23);
      ctx.translate(L.yLabX, (a.top + a.bottom) / 2);
      ctx.rotate(-Math.PI / 2);
      drawRich(ctx, yLabelSegs, 0, 23 * 0.27, 23);
      ctx.restore();
    },
  };
}

const toXY = (arr: Pt[]) => arr.map(([x, y]) => ({ x, y }));

function Panel({ L }: { L: PanelDef }) {
  const ref = useRef<HTMLCanvasElement>(null);
  useEffect(() => {
    const canvas = ref.current!;
    const chart = new Chart(canvas, {
      type: "scatter",
      data: {
        datasets: [
          { label: legendLabels[0], data: toXY(L.analytic), showLine: true, borderColor: C_LINE, borderWidth: 3, borderDash: [10, 5], pointRadius: 0, fill: false, cubicInterpolationMode: "monotone", order: 0 } as any,
          { label: legendLabels[3], data: toXY(L.notConfined), showLine: false, pointStyle: "crossRot", pointRadius: 7.5, pointBorderWidth: 3, pointBorderColor: C_PURPLE, pointBackgroundColor: C_PURPLE, order: 1 } as any,
          { label: legendLabels[2], data: toXY(L.rrOnly), showLine: false, pointStyle: "rectRot", pointRadius: 8, pointBorderWidth: 0, pointBorderColor: C_RED, pointBackgroundColor: C_RED, order: 2 } as any,
          { label: legendLabels[1], data: toXY(L.confined), showLine: false, pointStyle: "circle", pointRadius: 6.3, pointBorderWidth: 0, pointBorderColor: C_BLUE, pointBackgroundColor: C_BLUE, order: 3 } as any,
        ],
      },
      options: {
        responsive: false,
        maintainAspectRatio: false,
        animation: false,
        devicePixelRatio: 1,
        events: [],
        layout: { padding: { left: 0, right: 0, top: L.areaTop, bottom: L.h - L.areaBottom - 34 } },
        plugins: { legend: { display: false }, tooltip: { enabled: false }, title: { display: false } },
        scales: {
          x: {
            type: "linear", min: L.xMin, max: L.xMax,
            afterBuildTicks: (s: any) => { s.ticks = L.xTicks.map((v) => ({ value: v })); },
            afterFit: (s: any) => { s.height = 34; },
            grid: { color: "#b8b8b8", lineWidth: 0.8, drawTicks: false },
            border: { display: false, dash: [3, 2] },
            ticks: { padding: 2, color: "#111", font: { family: SERIF, size: 21 }, maxRotation: 0, autoSkip: false, callback: (v: any) => String(v) },
          },
          y: {
            type: "linear", min: L.yMin, max: L.yMax,
            afterBuildTicks: (s: any) => { s.ticks = L.yTicks.map((v) => ({ value: v })); },
            afterFit: (s: any) => { s.width = L.left; },
            grid: { color: "#b8b8b8", lineWidth: 0.8, drawTicks: false },
            border: { display: false, dash: [3, 2] },
            ticks: { padding: 6, color: "#111", font: { family: SERIF, size: 21 }, autoSkip: false, callback: (v: any) => Number(v).toFixed(L.yDec) },
          },
        },
      } as any,
      plugins: [makeDecor(L)],
    });
    return () => chart.destroy();
  }, []);
  return (
    <canvas
      ref={ref}
      width={637}
      height={L.h}
      style={{ position: "absolute", left: 0, top: L.top, width: 637, height: L.h, display: "block" }}
    />
  );
}

export default function App() {
  return (
    <div style={{ position: "absolute", left: 0, top: 0, width: 637, height: 1576, background: "#ffffff", overflow: "hidden" }}>
      {panels.map((p) => (
        <Panel key={p.key} L={p} />
      ))}
    </div>
  );
}
